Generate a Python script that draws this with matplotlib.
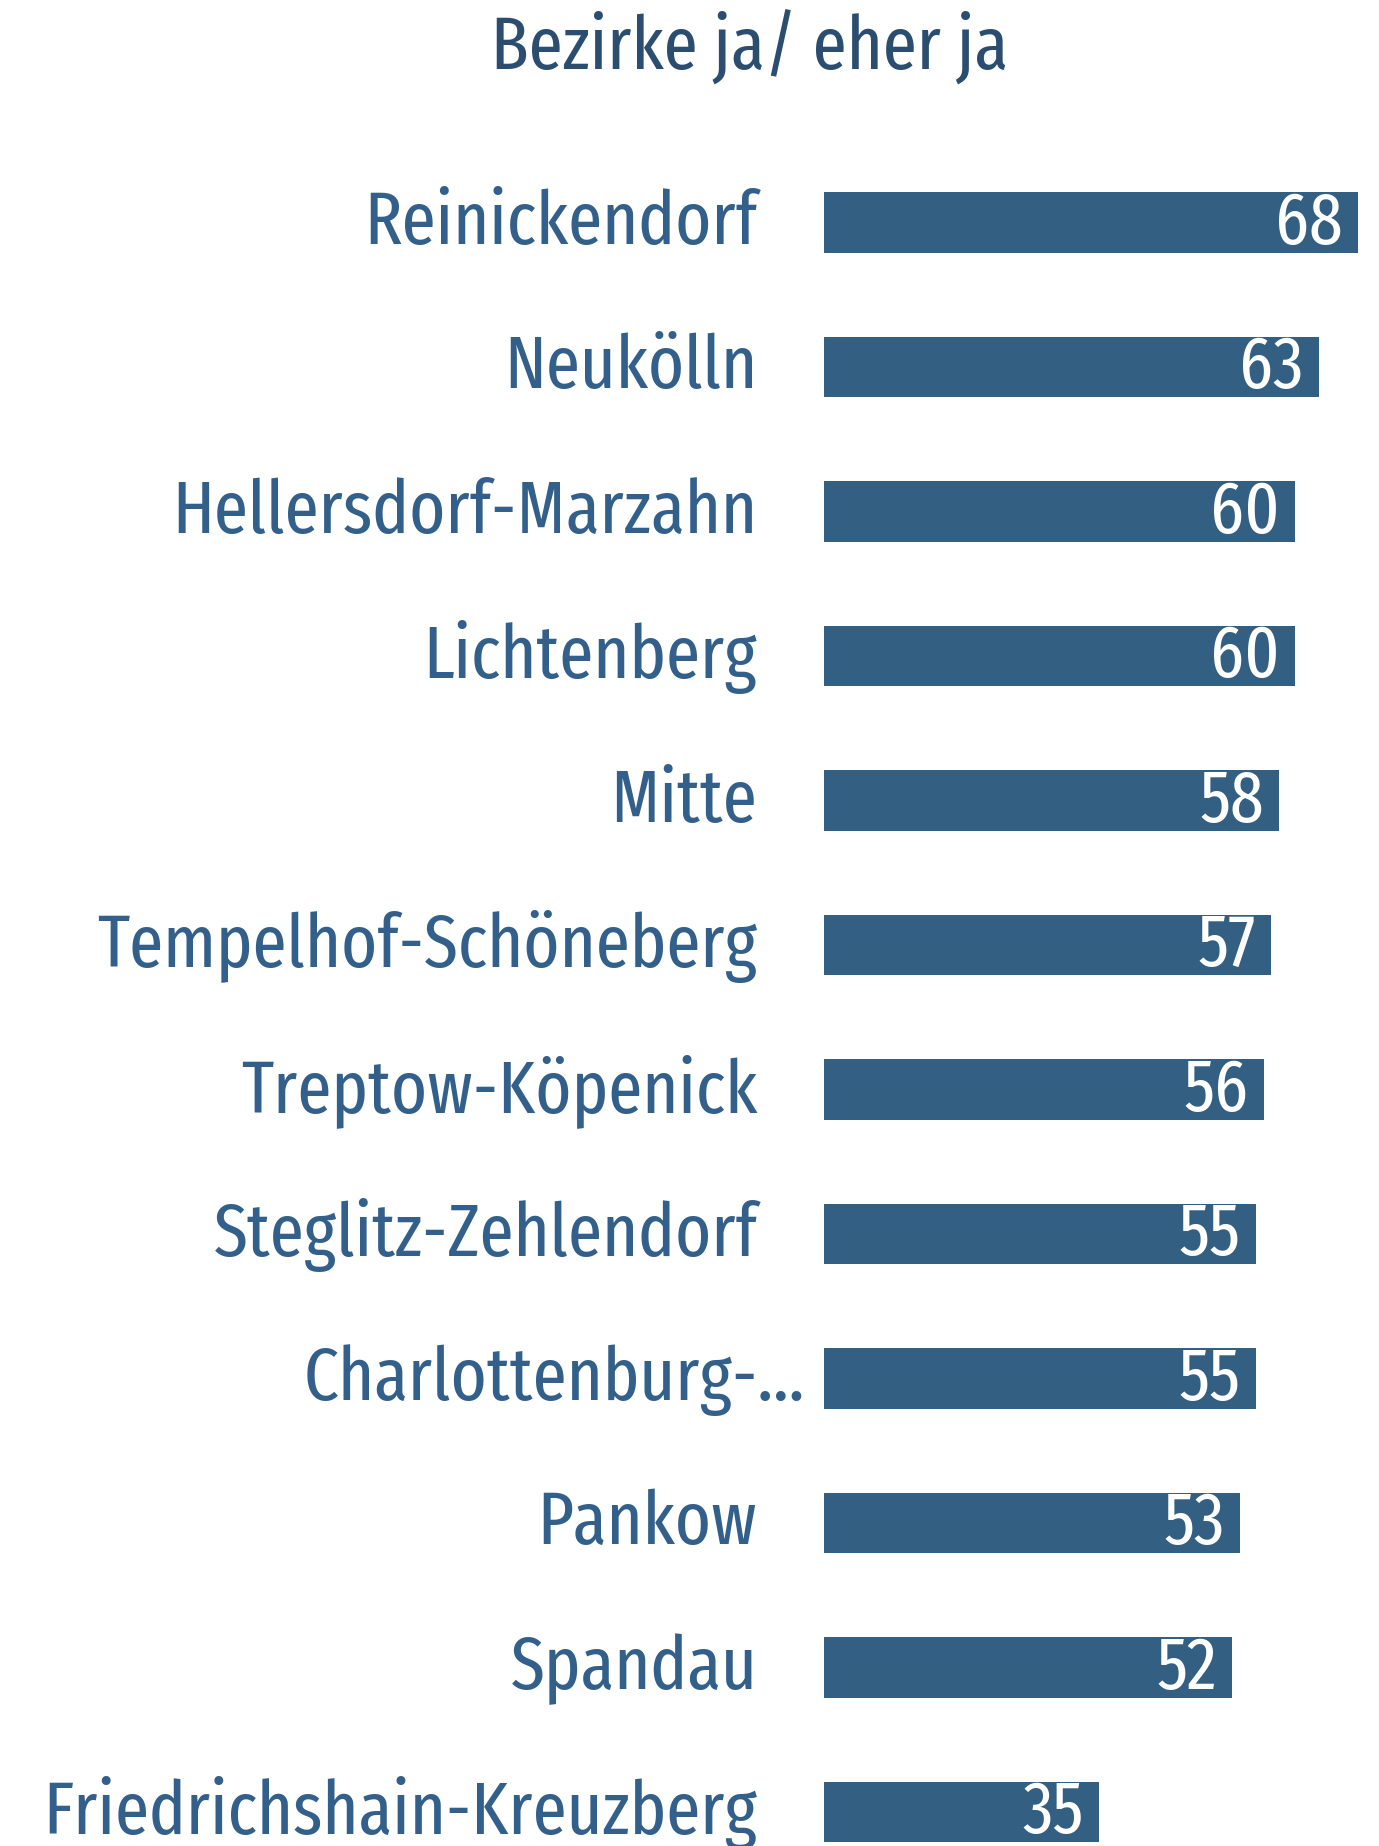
import matplotlib
matplotlib.use("Agg")
import matplotlib.pyplot as plt
from matplotlib.transforms import offset_copy

plt.rcParams['font.family'] = ['Fira Sans Extra Condensed', 'DejaVu Sans']

# data
bezirke = ["Reinickendorf", "Neukölln", "Hellersdorf-Marzahn", "Lichtenberg", "Mitte",
           "Tempelhof-Schöneberg", "Treptow-Köpenick", "Steglitz-Zehlendorf",
           "Charlottenburg-...", "Pankow", "Spandau", "Friedrichshain-Kreuzberg"]
werte = [68, 63, 60, 60, 58, 57, 56, 55, 55, 53, 52, 35]
titel = "Bezirke ja/ eher ja"

bar_color = "#335f82"
label_color = "#33608a"
title_color = "#2a4d70"

W, H = 1379, 1846
fig = plt.figure(figsize=(W / 100, H / 100), dpi=100)

left_px = 824
top_px = 150.35
ax = fig.add_axes([left_px / W, 0, 1 - left_px / W, 1 - top_px / H])
ax.set_xlim(0, (W - left_px) / 7.85)
ax.set_ylim(-0.5 + (H - top_px) / 144.5, -0.5)
ax.axis("off")

ys = list(range(len(bezirke)))
ax.barh(ys, werte, height=0.42, color=bar_color)

for y, name, v in zip(ys, bezirke, werte):
    # district label to the left of the axis; the truncated one hangs out a bit
    dx = 34 if name.endswith("...") else 0
    tr = offset_copy(ax.get_yaxis_transform(), fig=fig, x=-48 + dx, y=-1, units="points")
    ax.text(0, y, name, transform=tr, ha="right", va="center",
            fontsize=54, color=label_color)
    # value inside the bar
    trv = offset_copy(ax.transData, fig=fig, x=-11, y=-1, units="points")
    ax.text(v, y, str(v), transform=trv, ha="right", va="center",
            fontsize=53, color="white")

fig.text(750 / W, 1 - 48 / H, titel, ha="center", va="center",
         fontsize=54, color=title_color)

fig.savefig("out.png", dpi=100)
